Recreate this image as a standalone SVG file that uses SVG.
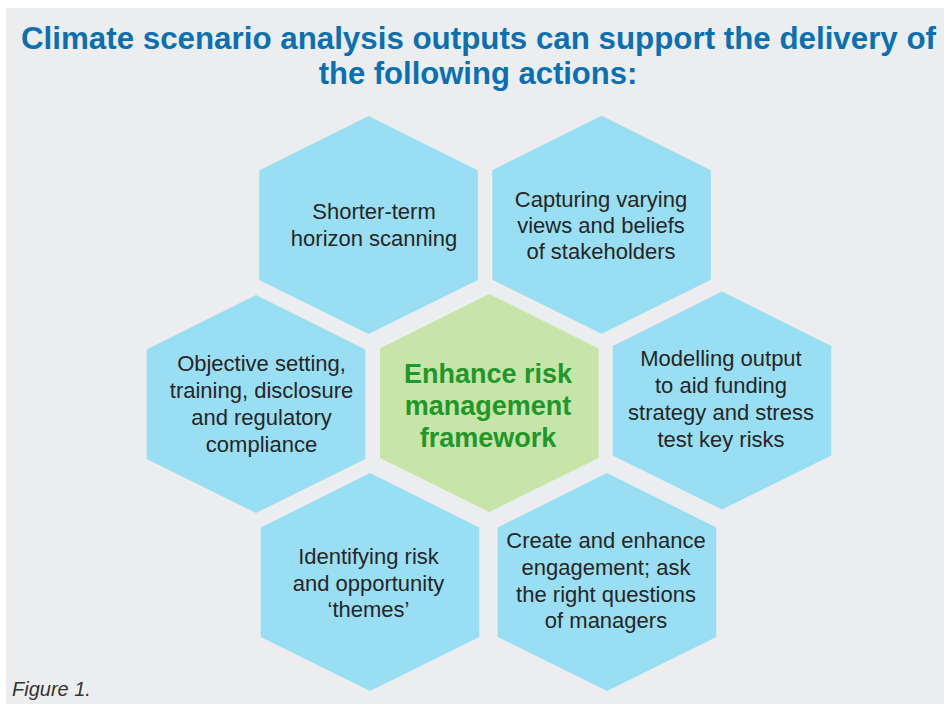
<svg xmlns="http://www.w3.org/2000/svg" xmlns:xlink="http://www.w3.org/1999/xlink" width="944" height="704" viewBox="0 0 944 704">
  <style>
    .title { font-family: "Liberation Sans", Arial, sans-serif; font-weight: bold; font-size: 31px; fill: #0A70B2; }
    .lbl { font-family: "Liberation Sans", Arial, sans-serif; font-size: 22px; fill: #262626; text-anchor: middle; }
    .core { font-family: "Liberation Sans", Arial, sans-serif; font-size: 27px; font-weight: bold; fill: #21972A; text-anchor: middle; }
    .blue { fill: #99DEF3; }
    .green { fill: #C7E4A9; }
    .cap { font-family: "Liberation Sans", Arial, sans-serif; font-style: italic; font-size: 20px; fill: #333333; }
  </style>
  <defs>
    <path id="hex" d="M0,-109 L109.3,-54.5 L109.3,55 L0,109 L-109.3,55 L-109.3,-54.5 Z"/>
  </defs>
  <rect x="0" y="0" width="944" height="704" fill="#FFFFFF"/>
  <rect x="6" y="8" width="938" height="696" fill="#ECEDEF"/>
  <g id="title">
    <text class="title" x="478.5" y="49" text-anchor="middle" textLength="915" lengthAdjust="spacingAndGlyphs">Climate scenario analysis outputs can support the delivery of</text>
    <text class="title" x="478" y="84" text-anchor="middle">the following actions:</text>
  </g>
  <g id="connectors"/>
  <g id="node-horizon">
    <use xlink:href="#hex" href="#hex" class="blue" transform="translate(368.5,225)"/>
    <text class="lbl"><tspan x="374" y="219.3">Shorter-term</tspan><tspan x="374" y="246">horizon scanning</tspan></text>
  </g>
  <g id="node-stakeholders">
    <use xlink:href="#hex" href="#hex" class="blue" transform="translate(601.6,224.7)"/>
    <text class="lbl"><tspan x="601" y="206.7">Capturing varying</tspan><tspan x="601" y="232.7">views and beliefs</tspan><tspan x="601" y="258.7">of stakeholders</tspan></text>
  </g>
  <g id="node-objective">
    <use xlink:href="#hex" href="#hex" class="blue" transform="translate(256,404)"/>
    <text class="lbl"><tspan x="261.5" y="371">Objective setting,</tspan><tspan x="261.5" y="397.7">training, disclosure</tspan><tspan x="261.5" y="424.6">and regulatory</tspan><tspan x="261.5" y="451.5">compliance</tspan></text>
  </g>
  <g id="node-core">
    <use xlink:href="#hex" href="#hex" class="green" transform="translate(489.3,403)"/>
    <text class="core"><tspan x="488" y="383.3">Enhance risk</tspan><tspan x="488" y="415">management</tspan><tspan x="488" y="446.7">framework</tspan></text>
  </g>
  <g id="node-modelling">
    <use xlink:href="#hex" href="#hex" class="blue" transform="translate(722,400.5)"/>
    <text class="lbl"><tspan x="721" y="366">Modelling output</tspan><tspan x="721" y="393">to aid funding</tspan><tspan x="721" y="420">strategy and stress</tspan><tspan x="721" y="446.7">test key risks</tspan></text>
  </g>
  <g id="node-themes">
    <use xlink:href="#hex" href="#hex" class="blue" transform="translate(370,582)"/>
    <text class="lbl"><tspan x="368.5" y="564">Identifying risk</tspan><tspan x="368.5" y="590.7">and opportunity</tspan><tspan x="368.5" y="617.3">‘themes’</tspan></text>
  </g>
  <g id="node-engagement">
    <use xlink:href="#hex" href="#hex" class="blue" transform="translate(607,582)"/>
    <text class="lbl"><tspan x="606" y="548.3">Create and enhance</tspan><tspan x="606" y="575">engagement; ask</tspan><tspan x="606" y="601.7">the right questions</tspan><tspan x="606" y="628.3">of managers</tspan></text>
  </g>
  <text class="cap" x="12" y="696">Figure 1.</text>
</svg>
